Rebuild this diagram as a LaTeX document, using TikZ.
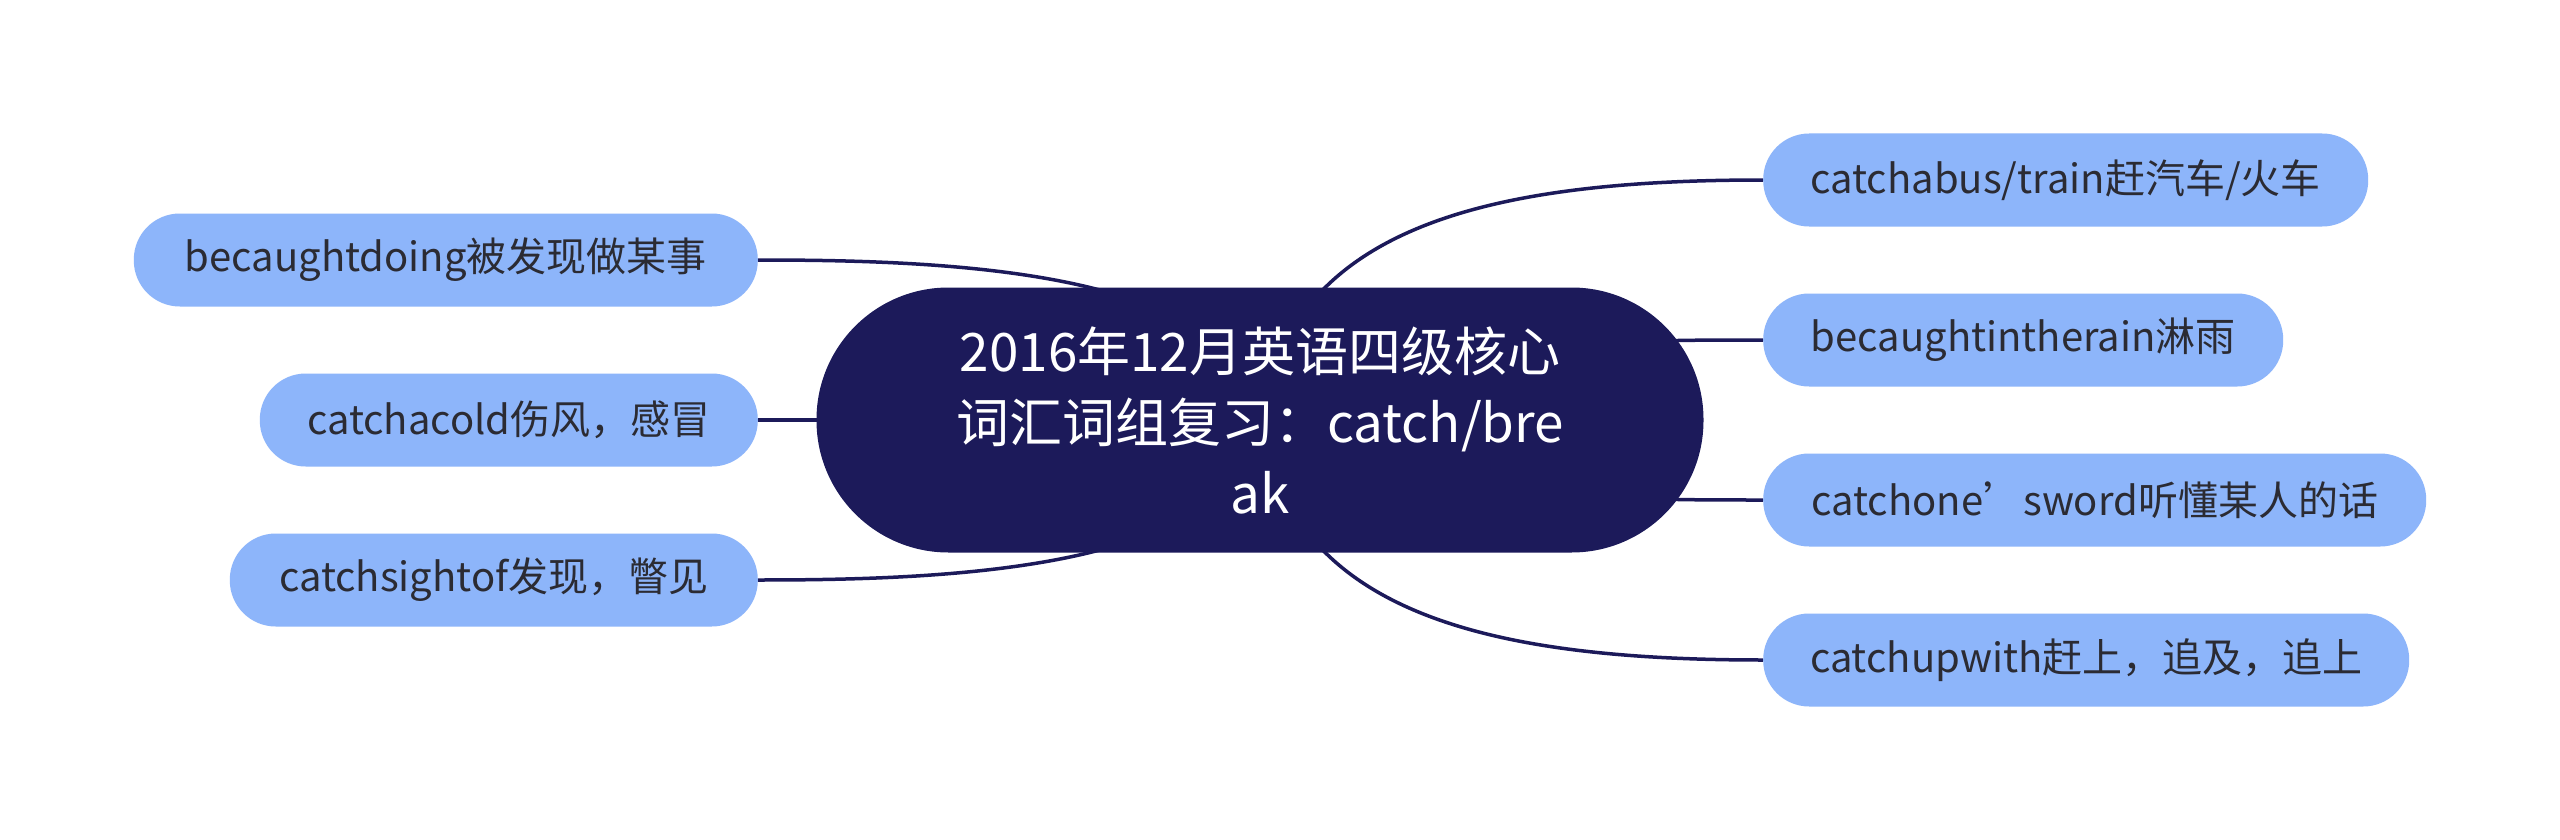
\documentclass[tikz,border=0pt]{standalone}
\usepackage{fontspec}
\setmainfont{Noto Sans CJK SC}
\usetikzlibrary{backgrounds}
\definecolor{navy}{HTML}{1C1A5A}
\definecolor{leafblue}{HTML}{8DB5FA}
\definecolor{leaftext}{HTML}{2B2B33}
\tikzset{
  centre/.style={rectangle, rounded corners=132pt, fill=navy, text=white,
    minimum width=887pt, minimum height=265pt, align=center,
    font=\fontsize{53}{71}\selectfont},
  leaf/.style={rectangle, rounded corners=46pt, fill=leafblue, text=leaftext,
    minimum height=93pt, inner xsep=0pt, font=\fontsize{40}{48}\selectfont},
  conn/.style={draw=navy, line width=3.5pt}
}
\begin{document}
\begin{tikzpicture}[x=1pt, y=-1pt]
\useasboundingbox (0,0) rectangle (2560,840);
\node[centre] (c) at (1260,420) {2016年12月英语四级核心\\词汇词组复习：catch/bre\\ak};
\node[leaf, anchor=west, minimum width=605pt] (r1) at (1763,180) {catchabus/train赶汽车/火车};
\node[leaf, anchor=west, minimum width=520pt] (r2) at (1763,340) {becaughtintherain淋雨};
\node[leaf, anchor=west, minimum width=663pt] (r3) at (1763,500) {catchone’sword听懂某人的话};
\node[leaf, anchor=west, minimum width=646pt] (r4) at (1763,660) {catchupwith赶上，追及，追上};
\node[leaf, anchor=east, minimum width=624pt] (l1) at (758,260) {becaughtdoing被发现做某事};
\node[leaf, anchor=east, minimum width=498pt] (l2) at (758,420) {catchacold伤风，感冒};
\node[leaf, anchor=east, minimum width=528pt] (l3) at (758,580) {catchsightof发现，瞥见};
\begin{pgfonlayer}{background}
\fill[white] (0,0) rectangle (2560,840);
\draw[conn] (c.center) .. controls +(30,-190) and +(-283,0) .. (r1.west);
\draw[conn] (c.center) .. controls +(240,-80) and +(-163,0) .. (r2.west);
\draw[conn] (c.center) .. controls +(240,80) and +(-163,0) .. (r3.west);
\draw[conn] (c.center) .. controls +(30,190) and +(-283,0) .. (r4.west);
\draw[conn] (c.center) .. controls +(-20,-150) and +(192,0) .. (l1.east);
\draw[conn] (c.center) -- (l2.east);
\draw[conn] (c.center) .. controls +(-20,150) and +(192,0) .. (l3.east);
\end{pgfonlayer}
\end{tikzpicture}
\end{document}
